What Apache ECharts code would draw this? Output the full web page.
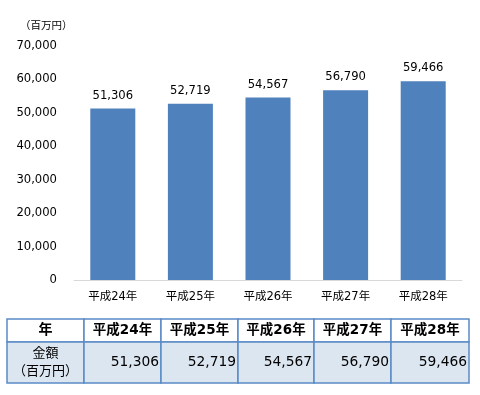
<!DOCTYPE html>
<html><head><meta charset="utf-8">
<script src="https://cdn.jsdelivr.net/npm/echarts@6/dist/echarts.min.js"></script>
<style>html,body{margin:0;padding:0;background:#fff}#c{width:480px;height:395px}</style>
</head><body><div id="c"></div>
<script>
var categories = ['平成24年','平成25年','平成26年','平成27年','平成28年'];
var values = [51306, 52719, 54567, 56790, 59466];
var unitLabel = '（百万円）';
var tableHeadLabel = '年';
var tableRowLabel = ['金額', '（百万円）'];

var FONT = '"DejaVu Sans", "Noto Sans CJK JP", sans-serif';
var chart = echarts.init(document.getElementById('c'));

function fmt(v){ return v.toLocaleString('en-US'); }

// table geometry
var colX = [7, 84, 161, 238, 314, 391, 469];
var rowY = [319, 342, 383];
var border = '#5B8AC6';
var g = [];
for (var c = 0; c < 6; c++) {
  for (var r = 0; r < 2; r++) {
    g.push({type:'rect', shape:{x:colX[c], y:rowY[r], width:colX[c+1]-colX[c], height:rowY[r+1]-rowY[r]},
      style:{fill: r===0 ? '#ffffff' : '#DCE6F1', stroke: border, lineWidth: 1.5}, z:1});
  }
}
g.push({type:'text', x:(colX[0]+colX[1])/2, y:(rowY[0]+rowY[1])/2, z:2,
  style:{text:tableHeadLabel, font:'bold 14px '+FONT, fill:'#000', align:'center', verticalAlign:'middle'}});
g.push({type:'text', x:(colX[0]+colX[1])/2, y:(rowY[1]+rowY[2])/2, z:2,
  style:{text:tableRowLabel.join('\n'), font:'13px '+FONT, lineHeight:18, fill:'#000', align:'center', verticalAlign:'middle'}});
categories.forEach(function(cat, i){
  g.push({type:'text', x:(colX[i+1]+colX[i+2])/2, y:(rowY[0]+rowY[1])/2, z:2,
    style:{text:cat, font:'bold 13.5px '+FONT, fill:'#000', align:'center', verticalAlign:'middle'}});
  g.push({type:'text', x:colX[i+2]-2, y:(rowY[1]+rowY[2])/2, z:2,
    style:{text:fmt(values[i]), font:'13.8px '+FONT, fill:'#000', align:'right', verticalAlign:'middle'}});
});
g.push({type:'text', left:20, top:21, style:{text:unitLabel, font:'10.5px '+FONT, fill:'#000'}});

chart.setOption({
  animation:false,
  grid:{left:74, right:18, top:46, bottom:115},
  xAxis:{type:'category', data:categories,
    axisLine:{lineStyle:{color:'#D9D9D9', width:1}}, axisTick:{show:false},
    axisLabel:{color:'#000', fontSize:11.5, fontFamily:FONT, margin:11}},
  yAxis:{type:'value', min:0, max:70000, interval:10000,
    axisLine:{show:false}, axisTick:{show:false}, splitLine:{show:false},
    axisLabel:{color:'#000', fontSize:11.6, fontFamily:FONT, margin:17, formatter:function(v){return fmt(v);}}},
  series:[{type:'bar', data:values, barWidth:'58%', itemStyle:{color:'#4F81BD'},
    label:{show:true, position:'top', distance:7, color:'#000', fontSize:11.6, fontFamily:FONT, formatter:function(p){return fmt(p.value);}}}],
  graphic:g
});
</script></body></html>
